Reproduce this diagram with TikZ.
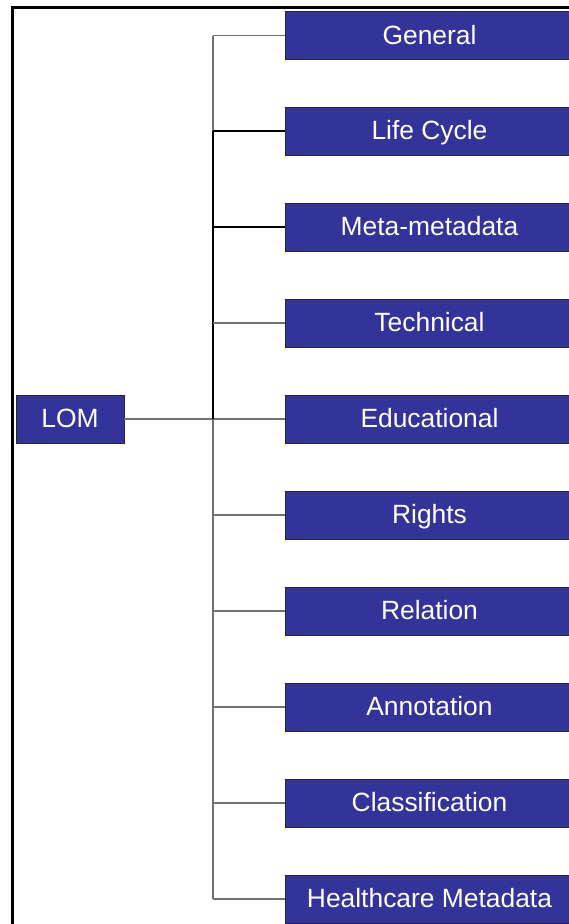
\documentclass[tikz,border=0pt]{standalone}
\usepackage{fontspec}
\setmainfont{Liberation Sans}
\definecolor{boxblue}{RGB}{51,51,153}
\definecolor{linegray}{RGB}{112,112,112}
\definecolor{boxedge}{RGB}{40,40,40}
\begin{document}
\begin{tikzpicture}[x=1pt,y=-1pt,
  catbox/.style={draw=boxedge,line width=0.8pt,fill=boxblue,text=white,
    minimum width=288pt,minimum height=48pt,inner sep=0pt,
    text height=19pt,text depth=2pt,
    font=\fontsize{26.4}{28}\selectfont},
  rootbox/.style={catbox,minimum width=108pt},
  conn/.style={draw=linegray,line width=1.3pt},
  darkconn/.style={draw=black,line width=1.3pt}]
\useasboundingbox (0,0) rectangle (568,924);
% outer frame
\draw[line width=3pt] (12,940) -- (12,7.5) -- (590,7.5);
% root
\node[rootbox] (lom) at (70,419) {LOM};
\coordinate (t0) at (213,35.5);
\coordinate (tm) at (213,419);
\coordinate (tb) at (213,899);
% categories
\node[catbox] (c1) at (429.5,35.5) {General};
\node[catbox] (c2) at (429.5,131) {Life Cycle};
\node[catbox] (c3) at (429.5,227) {Meta-metadata};
\node[catbox] (c4) at (429.5,323) {Technical};
\node[catbox] (c5) at (429.5,419) {Educational};
\node[catbox] (c6) at (429.5,515) {Rights};
\node[catbox] (c7) at (429.5,611) {Relation};
\node[catbox] (c8) at (429.5,707) {Annotation};
\node[catbox] (c9) at (429.5,803) {Classification};
\node[catbox] (c10) at (429.5,899) {Healthcare Metadata};
% trunk
\draw[conn] (t0) -- (tb);
\draw[conn] (lom.east) -- (c5.west);
\coordinate (j2) at (213,131);
\draw[darkconn,line width=2.2pt] (j2) -- (tm);
\foreach \i/\y in {1/35.5,4/323,6/515,7/611,8/707,9/803,10/899}{
  \draw[conn] (213,\y) -- (c\i.west);
}
\foreach \i/\y in {2/131,3/227}{
  \draw[darkconn] (213,\y) -- (c\i.west);
}
\end{tikzpicture}
\end{document}
